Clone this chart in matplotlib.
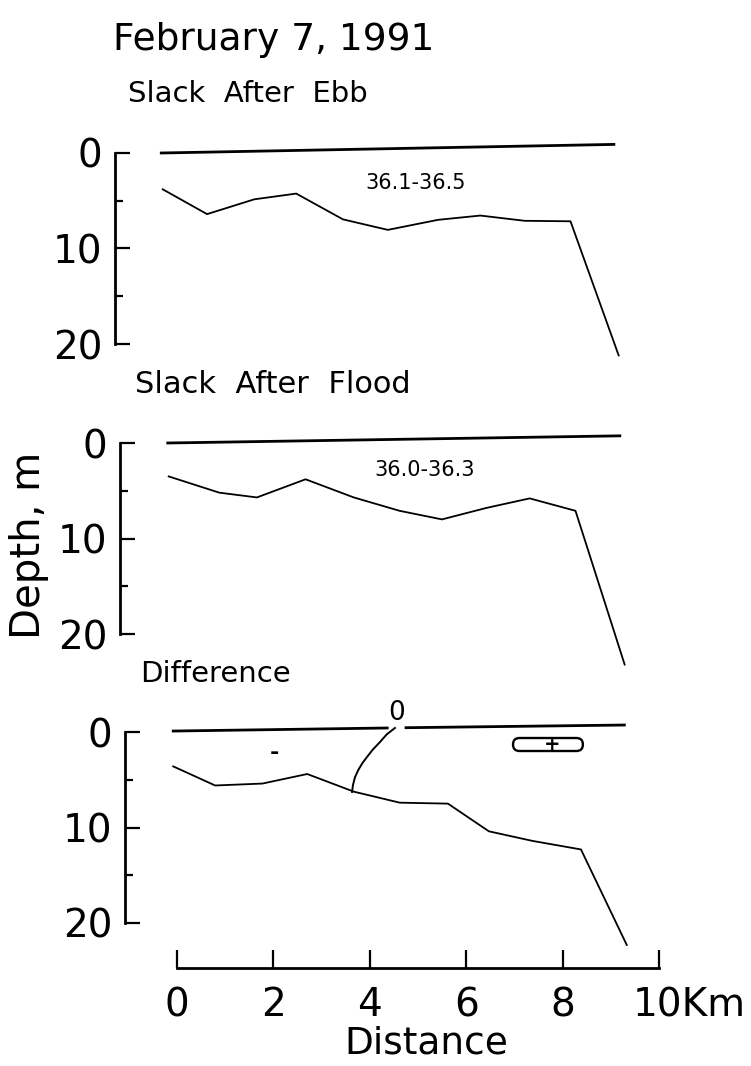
import numpy as np
import matplotlib
matplotlib.use("Agg")
import matplotlib.pyplot as plt
from matplotlib.patches import FancyBboxPatch

plt.rcParams['font.family'] = ['DejaVu Sans']

# ---------------- data (distance km, depth m) ----------------
# Slack after ebb
ebb_x = [-0.09, 0.83, 1.81, 2.68, 3.65, 4.58, 5.62, 6.50, 7.42, 8.37, 9.37]
ebb_d = [3.8, 6.4, 4.85, 4.25, 6.95, 8.05, 7.0, 6.55, 7.1, 7.15, 21.2]
ebb_surf_x = [-0.12, 9.27]
ebb_surf_d = [0.0, -0.9]
ebb_label = "36.1-36.5"

# Slack after flood
fld_x = [-0.07, 0.98, 1.76, 2.77, 3.77, 4.72, 5.60, 6.52, 7.42, 8.37, 9.39]
fld_d = [3.5, 5.2, 5.7, 3.8, 5.7, 7.1, 8.0, 6.8, 5.8, 7.1, 23.2]
fld_surf_x = [-0.09, 9.29]
fld_surf_d = [0.0, -0.75]
fld_label = "36.0-36.3"

# Difference
dif_x = [-0.08, 0.79, 1.77, 2.70, 3.67, 4.62, 5.62, 6.47, 7.37, 8.38, 9.33]
dif_d = [3.6, 5.6, 5.4, 4.4, 6.25, 7.4, 7.5, 10.4, 11.4, 12.3, 22.3]
dif_surf_x = [-0.08, 4.36, np.nan, 4.75, 9.28]
dif_surf_d = [-0.1, -0.42, np.nan, -0.45, -0.73]
zero_x = [4.52, 4.35, 4.21, 4.06, 3.94, 3.84, 3.76, 3.69, 3.65, 3.63]
zero_d = [-0.42, 0.25, 1.05, 1.85, 2.62, 3.3, 3.98, 4.75, 5.55, 6.28]
zero_lab = (4.56, -1.95)
minus_pos = (2.01, 2.17)
plus_pos = (7.78, 1.26)
plus_box = (6.97, 0.63, 1.45, 1.36)   # x0, d0, width(km), height(m)

yticks_major = [0, 10, 20]
yticks_minor = [5, 15]
xticks = [0, 2, 4, 6, 8, 10]
xticklabels = ['0', '2', '4', '6', '8', '']

# ---------------- figure ----------------
W, H = 751, 1066
fig = plt.figure(figsize=(W / 100, H / 100), dpi=100)

PXKM = 48.2
XMIN, XMAX = -1.08, 10.0


def px_axes(left, top, width, height):
    return fig.add_axes([left / W, 1 - (top + height) / H, width / W, height / H])


def ftext(x, y, s, **kw):
    fig.text(x / W, 1 - y / H, s, **kw)


def panel(left, top, xs, ds, sx, sd):
    ax = px_axes(left, top, (XMAX - XMIN) * PXKM, 191)
    ax.set_xlim(XMIN, XMAX)
    ax.set_ylim(20, 0)
    for s in ['top', 'right', 'bottom']:
        ax.spines[s].set_visible(False)
    ax.spines['left'].set_linewidth(2.0)
    ax.set_xticks([])
    ax.set_yticks(yticks_major)
    ax.set_yticklabels([str(v) for v in yticks_major])
    ax.set_yticks(yticks_minor, minor=True)
    ax.tick_params(axis='y', which='major', direction='in', length=11, width=1.6,
                   labelsize=28, pad=9)
    ax.tick_params(axis='y', which='minor', direction='in', length=6, width=1.6)
    ax.patch.set_visible(False)
    ax.plot(xs, ds, color='black', lw=1.3, clip_on=False)
    ax.plot(sx, sd, color='black', lw=2.0, clip_on=False)
    return ax


ax1 = panel(115, 153, ebb_x, ebb_d, ebb_surf_x, ebb_surf_d)
ax2 = panel(120, 443, fld_x, fld_d, fld_surf_x, fld_surf_d)
ax3 = panel(125, 732, dif_x, dif_d, dif_surf_x, dif_surf_d)

ax1.text(4.12, 3.15, ebb_label, fontsize=15, ha='left', va='center')
ax2.text(4.2, 2.8, fld_label, fontsize=15, ha='left', va='center')

# difference panel contours
ax3.plot(zero_x, zero_d, color='black', lw=1.4, clip_on=False)
ax3.text(zero_lab[0], zero_lab[1], '0', fontsize=19, ha='center', va='center')
ax3.text(minus_pos[0], minus_pos[1], '-', fontsize=16, ha='center', va='center',
         fontweight='bold')
ax3.text(plus_pos[0], plus_pos[1], '+', fontsize=14, ha='center', va='center',
         fontweight='bold')
box = FancyBboxPatch((plus_box[0], plus_box[1]), plus_box[2], plus_box[3],
                     boxstyle="round,pad=0,rounding_size=0.135",
                     mutation_aspect=PXKM / 9.55,
                     fc='none', ec='black', lw=1.7, clip_on=False)
ax3.add_patch(box)

# bottom distance axis
axb = px_axes(177, 938, 10 * PXKM, 30)
axb.set_xlim(0, 10)
axb.set_ylim(0, 1)
for s in ['top', 'right', 'left']:
    axb.spines[s].set_visible(False)
axb.spines['bottom'].set_linewidth(2.0)
axb.patch.set_visible(False)
axb.set_yticks([])
axb.set_xticks(xticks)
axb.set_xticklabels(xticklabels)
axb.tick_params(axis='x', direction='in', length=13, width=1.6, labelsize=28, pad=13)
axb.annotate('10Km', xy=(10, 0), xycoords=('data', 'axes fraction'),
             xytext=(-18.7, -13), textcoords='offset points',
             fontsize=28, ha='left', va='top')

# texts
ftext(113, 50, 'February 7, 1991', fontsize=27, va='baseline', ha='left')
ftext(128, 102, 'Slack  After  Ebb', fontsize=21, va='baseline', ha='left')
ftext(135, 393, 'Slack  After  Flood', fontsize=22, va='baseline', ha='left')
ftext(140, 682, 'Difference', fontsize=21, va='baseline', ha='left')
ftext(29, 545, 'Depth, m', fontsize=29, rotation=90, va='center', ha='center')
ftext(426, 1054, 'Distance', fontsize=27, va='baseline', ha='center')

fig.savefig('out.png', dpi=100)
